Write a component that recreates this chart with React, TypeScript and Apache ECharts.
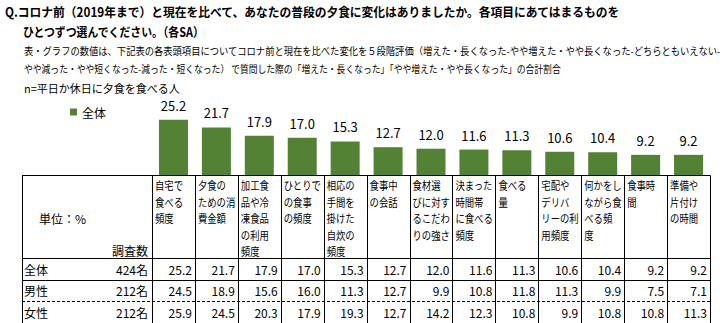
import React, { useEffect, useRef } from "react";
import * as echarts from "echarts";

const titleLines = [
  "Q.コロナ前（2019年まで）と現在を比べて、あなたの普段の夕食に変化はありましたか。各項目にあてはまるものを",
  "ひとつずつ選んでください。（各SA）",
];
const noteLines = [
  "表・グラフの数値は、下記表の各表頭項目についてコロナ前と現在を比べた変化を５段階評価（増えた・長くなった-やや増えた・やや長くなった-どちらともいえない-",
  "やや減った・やや短くなった-減った・短くなった） で質問した際の「増えた・長くなった」「やや増えた・やや長くなった」の合計割合",
  "n=平日か休日に夕食を食べる人",
];
const categories = [
  "自宅で\n食べる\n頻度",
  "夕食の\nための消\n費金額",
  "加工食\n品や冷\n凍食品\nの利用\n頻度",
  "ひとりで\nの食事\nの頻度",
  "相応の\n手間を\n掛けた\n自炊の\n頻度",
  "食事中\nの会話",
  "食材選\nびに対す\nるこだわ\nりの強さ",
  "決まった\n時間帯\nに食べる\n頻度",
  "食べる\n量",
  "宅配や\nデリバ\nリーの利\n用頻度",
  "何かをし\nながら食\nべる頻\n度",
  "食事時\n間",
  "準備や\n片付け\nの時間",
];
const totalValues = [25.2, 21.7, 17.9, 17.0, 15.3, 12.7, 12.0, 11.6, 11.3, 10.6, 10.4, 9.2, 9.2];
const maleValues = [24.5, 18.9, 15.6, 16.0, 11.3, 12.7, 9.9, 10.8, 11.8, 11.3, 9.9, 7.5, 7.1];
const femaleValues = [25.9, 24.5, 20.3, 17.9, 19.3, 12.7, 14.2, 12.3, 10.8, 9.9, 10.8, 10.8, 11.3];
const rowLabels = ["全体", "男性", "女性"];
const rowCounts = ["424名", "212名", "212名"];
const unitLabel = "単位：%";
const countHeader = "調査数";
const seriesName = "全体";

const FONT = '"Noto Sans CJK JP", "Noto Sans", sans-serif';
const BAR_COLOR = "#548235";

export default function App() {
  const ref = useRef<HTMLDivElement>(null);
  useEffect(() => {
    const chart = echarts.init(ref.current!, null, { renderer: "svg" });

    const W = 724;
    const tableLeft = 22;
    const gridLeft = 152;
    const gridRight = 710;
    const baseline = 175;
    const headerBottom = 258;
    const rowH = 21.5;
    const n = categories.length;
    const colW = (gridRight - gridLeft) / n;
    const rowsData = [totalValues, maleValues, femaleValues];
    const tableBottom = headerBottom + rowH * rowsData.length;
    const px = (v: number) => Math.round(v) + 0.5;

    const graphics: any[] = [];
    const titleScale = [0.94, 0.87];
    titleLines.forEach((t, i) => {
      graphics.push({
        type: "text",
        x: i === 0 ? 5 : 23,
        y: i === 0 ? 11 : 31,
        scaleX: titleScale[i],
        style: { text: t, fontSize: 12.5, fontWeight: "bold", fontFamily: FONT, fill: "#000", verticalAlign: "middle", align: "left" },
      });
    });
    const noteY = [51, 69, 88];
    const noteSize = [10, 10, 11];
    const noteScale = [0.93, 0.88, 1];
    noteLines.forEach((t, i) => {
      graphics.push({
        type: "text",
        x: 24,
        y: noteY[i],
        scaleX: noteScale[i],
        style: { text: t, fontSize: noteSize[i], fontFamily: FONT, fill: "#000", verticalAlign: "middle", align: "left" },
      });
    });

    const line = (x1: number, y1: number, x2: number, y2: number, dash?: number[]) => ({
      type: "line",
      silent: true,
      shape: { x1, y1, x2, y2 },
      style: { stroke: "#000", lineWidth: 1, lineDash: dash },
    });

    // horizontal lines
    graphics.push(line(tableLeft, px(baseline), gridRight + 0.5, px(baseline)));
    graphics.push(line(tableLeft, px(headerBottom), gridRight + 0.5, px(headerBottom)));
    graphics.push(line(tableLeft, px(headerBottom + rowH), gridRight + 0.5, px(headerBottom + rowH)));
    graphics.push(line(tableLeft, px(headerBottom + rowH * 2), gridRight + 0.5, px(headerBottom + rowH * 2), [3, 2]));
    graphics.push(line(tableLeft, px(tableBottom), gridRight + 0.5, px(tableBottom)));
    // vertical lines
    graphics.push(line(tableLeft + 0.5, px(baseline), tableLeft + 0.5, px(tableBottom)));
    for (let k = 0; k <= n; k++) {
      const x = px(gridLeft + k * colW);
      graphics.push(line(x, px(baseline), x, px(tableBottom)));
    }

    // header texts
    graphics.push({
      type: "text", x: 39, y: 218,
      style: { text: unitLabel, fontSize: 12, fontFamily: FONT, fill: "#000", verticalAlign: "middle", align: "left" },
    });
    graphics.push({
      type: "text", x: 148, y: 250,
      style: { text: countHeader, fontSize: 12, fontFamily: FONT, fill: "#000", verticalAlign: "middle", align: "right" },
    });
    categories.forEach((c, i) => {
      graphics.push({
        type: "text",
        x: gridLeft + i * colW + 3,
        y: 177,
        scaleX: 0.85,
        style: { text: c, fontSize: 11, lineHeight: 16.5, fontFamily: FONT, fill: "#000", verticalAlign: "top", align: "left" },
      });
    });

    // rows
    rowsData.forEach((vals, r) => {
      const cy = headerBottom + rowH * r + rowH / 2 + 0.5;
      graphics.push({
        type: "text", x: 24, y: cy,
        style: { text: rowLabels[r], fontSize: 12, fontFamily: FONT, fill: "#000", verticalAlign: "middle", align: "left" },
      });
      graphics.push({
        type: "text", x: 148, y: cy,
        style: { text: rowCounts[r], fontSize: 12, fontFamily: FONT, fill: "#000", verticalAlign: "middle", align: "right" },
      });
      vals.forEach((v, i) => {
        graphics.push({
          type: "text",
          x: gridLeft + (i + 1) * colW - 3,
          y: cy,
          style: { text: v.toFixed(1), fontSize: 12, fontFamily: FONT, fill: "#000", verticalAlign: "middle", align: "right" },
        });
      });
    });

    const maxV = 30;
    const pxPerUnit = 2.19;
    const gridTop = baseline - maxV * pxPerUnit;

    chart.setOption({
      animation: false,
      backgroundColor: "#fff",
      textStyle: { fontFamily: FONT },
      legend: {
        data: [seriesName],
        left: 70,
        top: 106,
        padding: 0,
        icon: "rect",
        itemWidth: 7,
        itemHeight: 7,
        textStyle: { fontSize: 12, color: "#000", fontFamily: FONT },
      },
      grid: { left: gridLeft, right: W - gridRight, top: gridTop, bottom: 323 - baseline, containLabel: false },
      xAxis: { type: "category", data: categories, show: false },
      yAxis: { type: "value", min: 0, max: maxV, show: false },
      series: [
        {
          type: "bar",
          name: seriesName,
          data: totalValues,
          barWidth: 29,
          itemStyle: { color: BAR_COLOR },
          label: {
            show: true,
            position: "top",
            distance: 8,
            fontSize: 13,
            color: "#000",
            fontFamily: FONT,
            formatter: (p: any) => Number(p.value).toFixed(1),
          },
        },
      ],
      graphic: graphics,
    });
    return () => chart.dispose();
  }, []);
  return (
    <div
      ref={ref}
      style={{ position: "fixed", left: 0, top: 0, width: 724, height: 323, background: "#fff" }}
    />
  );
}
